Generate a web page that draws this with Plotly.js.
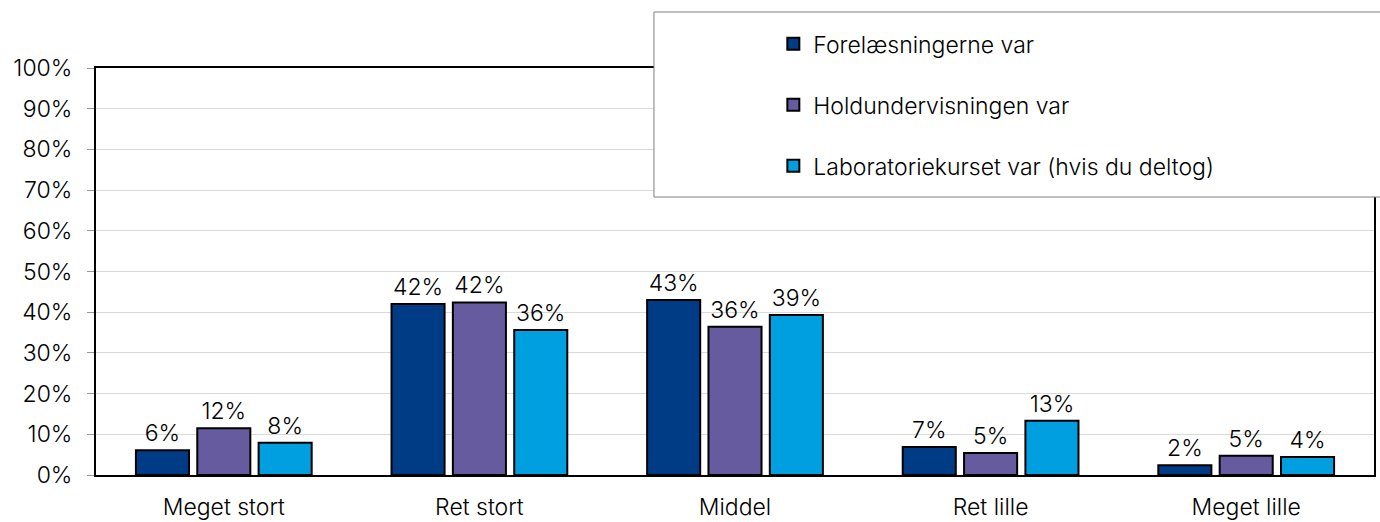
<!DOCTYPE html>
<html>
<head>
<meta charset="utf-8">
<script src="https://cdn.plot.ly/plotly-3.0.1.min.js"></script>
<style>html,body{margin:0;padding:0;background:#fff}#chart{width:1380px;height:522px}</style>
</head>
<body>
<div id="chart"></div>
<script>
const categories = ["Meget stort", "Ret stort", "Middel", "Ret lille", "Meget lille"];
const seriesNames = ["Forelæsningerne var", "Holdundervisningen var", "Laboratoriekurset var (hvis du deltog)"];
const forelaesninger = [0.061, 0.420, 0.430, 0.069, 0.024];
const holdundervisning = [0.115, 0.424, 0.364, 0.054, 0.047];
const laboratorie = [0.079, 0.356, 0.393, 0.133, 0.044];
const yTickVals = [0, 0.1, 0.2, 0.3, 0.4, 0.5, 0.6, 0.7, 0.8, 0.9, 1.0];
const yTickText = ["0%", "10%", "20%", "30%", "40%", "50%", "60%", "70%", "80%", "90%", "100%"];

const colors = ["#003B85", "#675BA0", "#009FDF"];
const values = [forelaesninger, holdundervisning, laboratorie];
const FONT = "Inter, 'Noto Sans', sans-serif";
const FS = 23;
const W = 300;

const traces = values.map((v, i) => ({
  type: "bar",
  name: seriesNames[i],
  x: categories,
  y: v,
  legendgroup: "g" + i,
  marker: { color: colors[i], line: { color: "#000", width: 2 } },
  text: v.map(d => Math.round(d * 100) + "%"),
  textposition: "outside",
  textfont: { family: FONT, size: FS, color: "#000", weight: W },
  cliponaxis: false,
  hoverinfo: "skip"
}));

const layout = {
  width: 1380, height: 522,
  margin: { l: 96, r: 6, t: 68, b: 47 },
  paper_bgcolor: "#fff", plot_bgcolor: "#fff",
  font: { family: FONT, size: FS, color: "#000", weight: W },
  barmode: "group",
  bargap: 0.28,
  bargroupgap: 0.135,
  showlegend: true,
  legend: {
    x: 0.530, y: 1.112, xanchor: "left", yanchor: "top",
    bgcolor: "rgba(0,0,0,0)", borderwidth: 0,
    font: { family: FONT, size: FS, color: "#000", weight: W },
    tracegroupgap: 28, traceorder: "grouped",
    itemwidth: 30
  },
  xaxis: {
    showline: true, linecolor: "#000", linewidth: 2, mirror: true,
    ticks: "", showgrid: false, fixedrange: true,
    ticklabelstandoff: 10,
    tickfont: { family: FONT, size: FS, color: "#000", weight: W }
  },
  yaxis: {
    range: [0, 1.0], tickvals: yTickVals, ticktext: yTickText,
    showline: true, linecolor: "#000", linewidth: 2, mirror: true,
    showgrid: true, gridcolor: "#d9d9d9", gridwidth: 1,
    ticks: "outside", ticklen: 7, tickcolor: "#999",
    ticklabelstandoff: 10,
    zeroline: false, fixedrange: true,
    tickfont: { family: FONT, size: FS, color: "#000", weight: W }
  },
  shapes: [{
    type: "rect", xref: "paper", yref: "paper",
    x0: 0.4366, x1: 1.02, y0: 0.683, y1: 1.1376,
    line: { color: "#7f7f7f", width: 1 }, fillcolor: "#fff", layer: "above"
  }]
};

Plotly.newPlot("chart", traces, layout, { staticPlot: true, displayModeBar: false });
</script>
</body>
</html>
